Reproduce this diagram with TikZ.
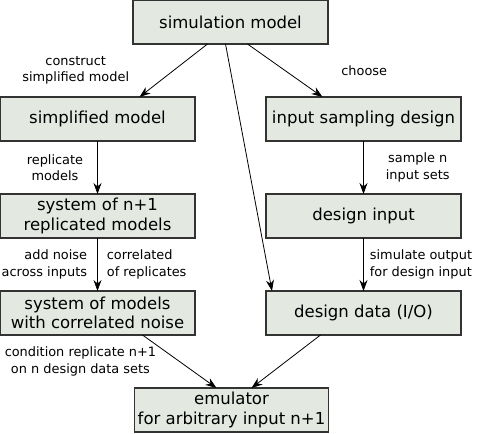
\documentclass[tikz,border=0pt]{standalone}
\usepackage{fontspec}
\setmainfont{DejaVu Sans}
\usetikzlibrary{arrows.meta,positioning,calc}
\definecolor{boxfill}{HTML}{E3E9E1}
\tikzset{
  box/.style = {draw=black!80, line width=1.3pt, fill=boxfill, inner sep=0pt,
                outer sep=0pt, minimum height=44pt, minimum width=195pt,
                align=center, font=\fontsize{16.5}{19.5}\selectfont},
  ar/.style  = {-{Stealth[length=11pt,width=8pt]}, line width=0.8pt},
  lbl/.style = {inner sep=2pt, align=center, font=\fontsize{12.9}{16.5}\selectfont}
}

\begin{document}
\begin{tikzpicture}[node distance=53pt and 71pt]
  \node[box] (simp) {simplified model};
  \node[box, right=of simp] (isd) {input sampling design};
  \coordinate (top) at ($(simp.north)!.5!(isd.north)$);
  \node[box, above=of top] (sim) {simulation model};
  \node[box, below=of simp] (rep) {system of n+1\\replicated models};
  \node[box, below=of rep] (noise) {system of models\\with correlated noise};
  \node[box, below=of isd] (din) {design input};
  \node[box, below=of din] (ddata) {design data (I/O)};
  \coordinate (bot) at ($(noise.south)!.5!(ddata.south)$);
  \node[box, below=of bot, minimum width=194pt, xshift=1pt] (emu) {emulator\\for arbitrary input n+1};

  \draw[ar] ([xshift=-23pt]sim.south) -- ([xshift=42pt]simp.north)
    node[lbl, midway, left=42pt] {construct\\simplified model};
  \draw[ar] ([xshift=17pt]sim.south) -- ([xshift=-41pt]isd.north)
    node[lbl, midway, right=54pt] {choose};
  \draw[ar] ([xshift=-5pt]sim.south) -- ([xshift=6pt]ddata.north west);
  \draw[ar] (simp) -- (rep) node[lbl, midway, left=12pt] {replicate\\models};
  \draw[ar] (rep) -- (noise)
    node[lbl, midway, left=8pt, align=right] {add noise\\across inputs}
    node[lbl, midway, right=7pt, align=left] {correlated\\of replicates};
  \draw[ar] (isd) -- (din) node[lbl, midway, right=20pt] {sample n\\input sets};
  \draw[ar] (din) -- (ddata)
    node[lbl, midway, right=4pt, align=left] {simulate output\\for design input};
  \draw[ar] ([xshift=45pt]noise.south) -- ([xshift=-15pt]emu.north)
    node[lbl, midway, left=21pt] {condition replicate n+1\\on n design data sets};
  \draw[ar] ([xshift=-43pt]ddata.south) -- ([xshift=20pt]emu.north);

  \pgfresetboundingbox
  \useasboundingbox (simp.west |- sim.north) rectangle ++(477pt,-434pt);
\end{tikzpicture}
\end{document}
